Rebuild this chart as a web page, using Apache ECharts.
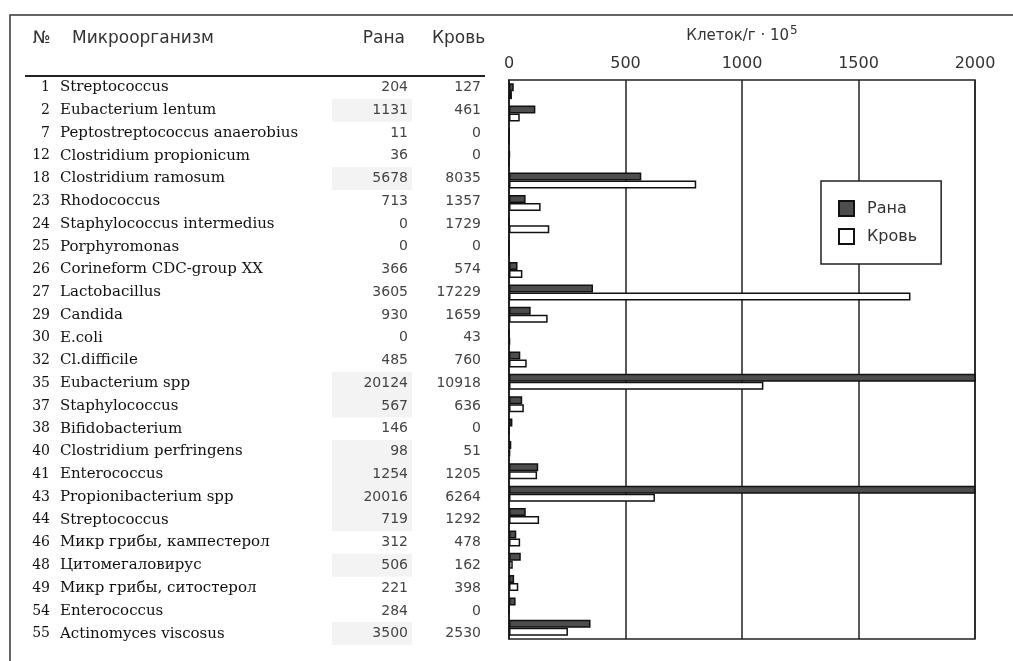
<!DOCTYPE html>
<html>
<head>
<meta charset="utf-8">
<script src="https://cdn.jsdelivr.net/npm/echarts@6/dist/echarts.min.js"></script>
<style>
  html, body { margin: 0; padding: 0; background: #fff; }
  #chart { width: 1013px; height: 661px; }
</style>
</head>
<body>
<div id="chart"></div>
<script>
// rows of the table, top to bottom
const rowNumbers = ['1', '2', '7', '12', '18', '23', '24', '25', '26', '27', '29', '30', '32',
  '35', '37', '38', '40', '41', '43', '44', '46', '48', '49', '54', '55'];
const organisms = ['Streptococcus', 'Eubacterium lentum', 'Peptostreptococcus anaerobius',
  'Clostridium propionicum', 'Clostridium ramosum', 'Rhodococcus', 'Staphylococcus intermedius',
  'Porphyromonas', 'Corineform CDC-group XX', 'Lactobacillus', 'Candida', 'E.coli', 'Cl.difficile',
  'Eubacterium spp', 'Staphylococcus', 'Bifidobacterium', 'Clostridium perfringens', 'Enterococcus',
  'Propionibacterium spp', 'Streptococcus', 'Микр грибы, кампестерол', 'Цитомегаловирус',
  'Микр грибы, ситостерол', 'Enterococcus', 'Actinomyces viscosus'];
const wound = [204, 1131, 11, 36, 5678, 713, 0, 0, 366, 3605, 930, 0, 485, 20124, 567, 146, 98,
  1254, 20016, 719, 312, 506, 221, 284, 3500];
const blood = [127, 461, 0, 0, 8035, 1357, 1729, 0, 574, 17229, 1659, 43, 760, 10918, 636, 0, 51,
  1205, 6264, 1292, 478, 162, 398, 0, 2530];
// rows whose "Рана" cell is shaded in the table
const shadedRows = ['2', '18', '35', '37', '40', '41', '43', '44', '48', '55'];

const xTicks = [0, 5000, 10000, 15000, 20000]; // shown as 0..2000 (x 10^5 cells/g)

const chart = echarts.init(document.getElementById('chart'));

const sans = 'DejaVu Sans';
const serif = 'DejaVu Serif';
const rowH = 23;

const tableAxis = {
  gridIndex: 1,
  type: 'category',
  position: 'left',
  inverse: true,
  data: rowNumbers,
  axisLine: { show: false },
  axisTick: { show: false }
};

const option = {
  animation: false,
  grid: [
    { left: 509, top: 80, width: 466, height: 559, show: true, borderColor: '#222', borderWidth: 1.5 },
    { left: 490, top: 76, width: 1, height: 569 }
  ],
  xAxis: [
    {
      gridIndex: 0,
      type: 'value',
      position: 'top',
      min: xTicks[0],
      max: xTicks[xTicks.length - 1],
      interval: xTicks[1] - xTicks[0],
      name: '{a|Клеток/г · 10}{s|5}',
      nameLocation: 'middle',
      nameGap: 33,
      nameTextStyle: {
        rich: {
          a: { fontFamily: sans, fontSize: 15, color: '#333' },
          s: { fontFamily: sans, fontSize: 12, color: '#333', padding: [0, 0, 10, 1] }
        }
      },
      axisLine: { lineStyle: { color: '#222', width: 1.5 } },
      axisTick: { show: false },
      axisLabel: {
        margin: 8,
        fontFamily: sans,
        fontSize: 16,
        color: '#333',
        formatter: (v) => String(v / 10)
      },
      splitLine: { lineStyle: { color: '#222', width: 1.5 } }
    },
    { gridIndex: 1, type: 'value', show: false }
  ],
  yAxis: [
    {
      gridIndex: 0,
      type: 'category',
      inverse: true,
      data: rowNumbers,
      axisLine: { lineStyle: { color: '#222', width: 1.5 } },
      axisTick: { length: 4, lineStyle: { color: '#222', width: 1.5 } },
      axisLabel: { show: false }
    },
    // row numbers column
    Object.assign({}, tableAxis, {
      axisLabel: {
        interval: 0,
        margin: 440,
        align: 'right',
        fontFamily: serif,
        fontSize: 14,
        color: '#111'
      }
    }),
    // organism, wound and blood columns
    Object.assign({}, tableAxis, {
      axisLabel: {
        interval: 0,
        margin: 9,
        align: 'right',
        formatter: (v, i) => {
          const a = shadedRows.includes(v) ? 'ah' : 'a';
          return `{m|${organisms[i]}}{${a}|${wound[i]}}{b|${blood[i]}}`;
        },
        rich: {
          m: { width: 272, padding: [0, 0, 0, 10], align: 'left', fontFamily: serif, fontSize: 15, color: '#111', lineHeight: rowH },
          a: { width: 76, padding: [0, 4, 0, 0], align: 'right', fontFamily: sans, fontSize: 14, color: '#444', lineHeight: rowH, height: rowH },
          ah: { width: 76, padding: [0, 4, 0, 0], align: 'right', fontFamily: sans, fontSize: 14, color: '#444', lineHeight: rowH, height: rowH, backgroundColor: '#f3f3f3' },
          b: { width: 69, align: 'right', fontFamily: sans, fontSize: 14, color: '#444', lineHeight: rowH }
        }
      }
    })
  ],
  legend: {
    orient: 'vertical',
    left: 821,
    top: 181,
    padding: [19, 24, 19, 17],
    itemGap: 11,
    itemWidth: 15,
    itemHeight: 15,
    borderColor: '#222',
    borderWidth: 1.5,
    backgroundColor: '#fff',
    icon: 'rect',
    textStyle: { fontFamily: sans, fontSize: 16, color: '#333', padding: [0, 0, 0, 8] },
    data: ['Рана', 'Кровь']
  },
  series: [
    {
      name: 'Рана',
      type: 'bar',
      xAxisIndex: 0,
      yAxisIndex: 0,
      data: wound,
      barWidth: 8,
      barGap: '0%',
      itemStyle: { color: '#4d4d4d', borderColor: '#111', borderWidth: 1.5 }
    },
    {
      name: 'Кровь',
      type: 'bar',
      xAxisIndex: 0,
      yAxisIndex: 0,
      data: blood,
      barWidth: 8,
      barGap: '0%',
      itemStyle: { color: '#fff', borderColor: '#111', borderWidth: 1.5 }
    }
  ],
  graphic: [
    { type: 'rect', shape: { x: 10, y: 15, width: 1100, height: 700 }, style: { fill: null, stroke: '#333', lineWidth: 1.5 }, silent: true },
    { type: 'line', shape: { x1: 25, y1: 76, x2: 485, y2: 76 }, style: { stroke: '#222', lineWidth: 2 } },
    { type: 'text', x: 33, y: 39, style: { text: '№', font: '17px "DejaVu Sans"', fill: '#333', verticalAlign: 'middle' } },
    { type: 'text', x: 72, y: 39, style: { text: 'Микроорганизм', font: '17px "DejaVu Sans"', fill: '#333', verticalAlign: 'middle' } },
    { type: 'text', x: 405, y: 39, style: { text: 'Рана', font: '17px "DejaVu Sans"', fill: '#333', align: 'right', verticalAlign: 'middle' } },
    { type: 'text', x: 432, y: 39, style: { text: 'Кровь', font: '17px "DejaVu Sans"', fill: '#333', verticalAlign: 'middle' } }
  ]
};

chart.setOption(option);
</script>
</body>
</html>
